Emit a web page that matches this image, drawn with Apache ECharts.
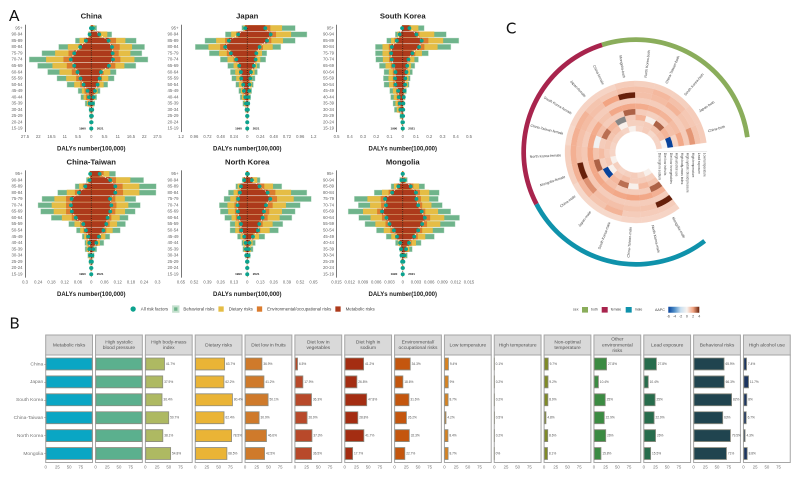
<!DOCTYPE html>
<html><head><meta charset="utf-8">
<style>html,body{margin:0;padding:0;background:#fff}#c{width:800px;height:479px;filter:blur(.4px)}</style>
<script src="https://cdn.jsdelivr.net/npm/echarts@6/dist/echarts.min.js"></script>
</head><body><div id="c"></div>
<script>
// ---------- Panel A data: outer edge of each cumulative risk layer (DALYs, 100,000)
const ages=['95+','90-94','85-89','80-84','75-79','70-74','65-69','60-64','55-59','50-54','45-49','40-44','35-39','30-34','25-29','20-24','15-19'];

const chinaM1990=[.14,.69,2.22,4.58,7.08,8.47,7.08,5.69,4.44,3.19,1.53,.97,.69,.21,.11,.07,.04];
const chinaE1990=[.14,.83,3.06,5.28,9.44,11.53,10.14,8.06,6.25,4.58,2.78,2.22,1.39,.42,.14,.08,.04];
const chinaD1990=[.28,1.11,4.86,9.72,15,18.75,16.11,13.19,10.42,7.08,3.89,3.19,1.81,.56,.28,.14,.07];
const chinaB1990=[.42,1.39,6.67,13.61,20.56,25.83,22.36,18.19,14.31,10.14,5.56,4.44,2.64,.97,.69,.28,.14];
const chinaM2021=[.69,3.33,7.22,8.61,8.89,9.03,7.36,4.03,3.47,2.64,1.53,.97,.69,.42,.28,.14,.07];
const chinaE2021=[.83,3.89,10.28,11.81,11.39,12.08,10,5.14,4.44,3.33,1.81,1.11,.83,.56,.35,.17,.07];
const chinaD2021=[1.39,6.67,14.17,16.94,16.25,17.92,13.75,7.92,7.08,5.14,2.64,1.67,1.11,.69,.42,.21,.1];
const chinaB2021=[2.36,8.61,18.75,22.22,21.11,23.61,18.61,10.42,9.58,6.94,3.75,2.36,1.53,.97,.69,.28,.14];

const japanM1990=[.036,.164,.333,.4,.297,.2,.145,.115,.109,.073,.061,.036,.024,.012,.004,.002,.001];
const japanE1990=[.042,.2,.4,.491,.37,.248,.176,.145,.133,.097,.085,.067,.042,.018,.006,.004,.002];
const japanD1990=[.067,.291,.564,.703,.509,.358,.248,.218,.2,.152,.115,.097,.061,.03,.012,.006,.003];
const japanB1990=[.103,.4,.77,.945,.691,.491,.358,.309,.285,.212,.158,.133,.085,.042,.018,.009,.006];
const japanM2021=[.327,.424,.358,.224,.164,.152,.121,.067,.055,.042,.036,.024,.018,.012,.004,.002,.001];
const japanE2021=[.418,.521,.436,.285,.188,.17,.133,.085,.073,.055,.042,.03,.024,.018,.006,.004,.002];
const japanD2021=[.63,.794,.648,.461,.267,.236,.176,.133,.091,.085,.061,.048,.03,.024,.012,.006,.003];
const japanB2021=[.873,1.085,.873,.612,.358,.339,.23,.188,.145,.115,.085,.067,.042,.03,.018,.009,.006];

const koreaM1990=[.005,.023,.045,.083,.088,.083,.07,.055,.058,.055,.035,.03,.023,.018,.008,.003,.001];
const koreaE1990=[.005,.03,.063,.105,.105,.103,.09,.075,.075,.073,.05,.045,.038,.03,.01,.005,.001];
const koreaD1990=[.006,.04,.088,.153,.153,.15,.13,.105,.108,.103,.075,.068,.055,.045,.015,.008,.002];
const koreaB1990=[.008,.058,.123,.208,.208,.205,.178,.143,.148,.143,.1,.093,.075,.065,.023,.013,.003];
const koreaM2021=[.05,.103,.143,.123,.073,.043,.033,.028,.02,.018,.013,.008,.005,.004,.003,.002,.001];
const koreaE2021=[.06,.125,.193,.163,.095,.055,.04,.035,.028,.023,.015,.01,.008,.005,.003,.003,.001];
const koreaD2021=[.118,.238,.305,.263,.145,.088,.063,.055,.043,.038,.02,.015,.01,.008,.005,.004,.002];
const koreaB2021=[.163,.33,.425,.365,.195,.12,.093,.075,.058,.05,.03,.02,.013,.01,.008,.005,.003];

const taiwanM1990=[.005,.008,.027,.056,.089,.092,.088,.07,.036,.024,.014,.009,.009,.005,.003,.001,.0005];
const taiwanE1990=[.006,.012,.038,.074,.114,.114,.114,.088,.05,.035,.023,.017,.015,.008,.005,.002,.001];
const taiwanD1990=[.008,.017,.055,.111,.167,.179,.17,.133,.076,.05,.032,.023,.021,.012,.008,.003,.001];
const taiwanB1990=[.009,.023,.074,.153,.224,.242,.23,.182,.103,.068,.042,.03,.029,.017,.011,.005,.002];
const taiwanM2021=[.038,.086,.109,.109,.085,.091,.086,.074,.068,.055,.035,.023,.009,.005,.003,.001,.0005];
const taiwanE2021=[.056,.112,.142,.144,.109,.114,.109,.091,.083,.068,.045,.029,.012,.006,.005,.002,.001];
const taiwanD2021=[.082,.177,.218,.218,.152,.168,.153,.129,.117,.097,.064,.039,.015,.009,.006,.003,.001];
const taiwanB2021=[.111,.238,.295,.294,.203,.223,.2,.168,.156,.132,.085,.058,.026,.014,.009,.005,.002];

const nkM1990=[.003,.03,.062,.072,.089,.095,.092,.082,.062,.059,.03,.016,.013,.01,.003,.002,.001];
const nkE1990=[.007,.036,.075,.095,.112,.125,.121,.112,.085,.082,.046,.026,.023,.013,.005,.003,.002];
const nkD1990=[.01,.043,.095,.134,.167,.194,.187,.154,.121,.118,.066,.039,.033,.016,.007,.005,.002];
const nkB1990=[.013,.052,.115,.187,.23,.276,.266,.223,.171,.171,.098,.056,.046,.023,.01,.007,.003];
const nkM2021=[.007,.046,.121,.2,.226,.184,.164,.151,.118,.105,.056,.023,.016,.013,.003,.002,.001];
const nkE2021=[.007,.056,.167,.276,.292,.249,.216,.2,.151,.128,.069,.03,.023,.016,.005,.003,.002];
const nkD2021=[.01,.098,.253,.43,.456,.38,.341,.318,.249,.22,.115,.052,.036,.023,.007,.005,.002];
const nkB2021=[.013,.128,.341,.587,.63,.522,.472,.44,.351,.308,.174,.082,.059,.033,.01,.007,.003];

const mongoliaM1990=[.00004,.0003,.001,.0024,.004,.0038,.0047,.0037,.003,.002,.0013,.0006,.0004,.0003,.00015,.00005,.00002];
const mongoliaE1990=[.0001,.0004,.0014,.0032,.005,.0049,.0058,.0047,.0039,.0028,.0017,.0008,.00045,.0004,.0002,.0001,.00004];
const mongoliaD1990=[.00015,.0005,.002,.0047,.008,.0074,.009,.0073,.0062,.0043,.0026,.0011,.0006,.00045,.0003,.0001,.00005];
const mongoliaB1990=[.0002,.00075,.0027,.0065,.011,.0101,.0124,.01,.0086,.006,.0038,.0017,.00075,.0006,.0004,.00015,.0001];
const mongoliaM2021=[.00004,.0004,.0018,.003,.0031,.0035,.0043,.005,.0044,.0035,.0026,.0014,.00075,.0004,.00015,.00005,.00002];
const mongoliaE2021=[.0001,.0005,.0024,.0039,.0041,.0044,.0051,.0062,.0055,.0044,.0034,.002,.0011,.0005,.00015,.0001,.00004];
const mongoliaD2021=[.00015,.00075,.0037,.006,.006,.0065,.008,.0094,.0085,.0068,.0051,.003,.0015,.00075,.0002,.0001,.00005];
const mongoliaB2021=[.0002,.0011,.005,.0083,.0081,.009,.0109,.0129,.0119,.0094,.0072,.0042,.0022,.0011,.0003,.00015,.0001];

const pyramidNames=['China','Japan','South Korea','China-Taiwan','North Korea','Mongolia'];
const pyramidMax=[27.5,1.2,.5,.3,.65,.015];
const pyramidStep=[5.5,.24,.1,.06,.13,.003];
const pyramid1990=[[chinaB1990,chinaD1990,chinaE1990,chinaM1990],[japanB1990,japanD1990,japanE1990,japanM1990],[koreaB1990,koreaD1990,koreaE1990,koreaM1990],[taiwanB1990,taiwanD1990,taiwanE1990,taiwanM1990],[nkB1990,nkD1990,nkE1990,nkM1990],[mongoliaB1990,mongoliaD1990,mongoliaE1990,mongoliaM1990]];
const pyramid2021=[[chinaB2021,chinaD2021,chinaE2021,chinaM2021],[japanB2021,japanD2021,japanE2021,japanM2021],[koreaB2021,koreaD2021,koreaE2021,koreaM2021],[taiwanB2021,taiwanD2021,taiwanE2021,taiwanM2021],[nkB2021,nkD2021,nkE2021,nkM2021],[mongoliaB2021,mongoliaD2021,mongoliaE2021,mongoliaM2021]];
const layerNames=['Behavioral risks','Dietary risks','Environmental/occupational risks','Metabolic risks'];
const allRiskName='All risk factors';

// ---------- Panel B data: percent share
const locations=['China','Japan','South Korea','China-Taiwan','North Korea','Mongolia'];
const shareMetabolic=[100,100,100,100,100,100];
const shareSbp=[100,100,100,100,100,100];
const shareBmi=[41.7,37.9,36.4,50.7,38.1,54.8];
const shareDietary=[63.7,62.2,80.4,62.4,78.5,68.5];
const shareFruits=[36.9,41.2,50.1,30.9,46.6,42.5];
const shareVegetables=[6.5,17.9,36.3,26.9,37.3,36.5];
const shareSodium=[41.2,26.8,47.8,28.8,41.7,17.7];
const shareEnvironmental=[34.3,18.6,31.6,26.2,32.3,22.7];
const shareLowTemp=[9.4,9,8.7,4.2,8.4,8.7];
const shareHighTemp=[.1,.2,.2,.5,.2,0];
const shareNonOptimal=[9.7,9.2,8.9,4.8,8.6,8.1];
const shareOtherEnv=[27.8,10.4,25,22.9,26,15.8];
const shareLead=[27.8,10.4,25,22.9,26,15.5];
const shareBehavioral=[65.9,66.3,82,63,79.5,71];
const shareAlcohol=[7.4,11.7,8,6.7,4.3,8.8];
const facetTitles=['Metabolic risks','High systolic\nblood pressure','High body-mass\nindex','Dietary risks','Diet low in fruits','Diet low in\nvegetables','Diet high in\nsodium','Environmental/\noccupational risks','Low temperature','High temperature','Non-optimal\ntemperature','Other\nenvironmental\nrisks','Lead exposure','Behavioral risks','High alcohol use'];
const facetValues=[shareMetabolic,shareSbp,shareBmi,shareDietary,shareFruits,shareVegetables,shareSodium,shareEnvironmental,shareLowTemp,shareHighTemp,shareNonOptimal,shareOtherEnv,shareLead,shareBehavioral,shareAlcohol];
const facetColors=['#0aa6c4','#5bb08e','#aeb962','#eab436','#cf7a2b','#b8492a','#a42d12','#c4560e','#d9831f','#c9832a','#7f8a26','#3b8b42','#276c4c','#20444f','#1c3560'];

// ---------- Panel C data: AAPC by risk ring (inner to outer) and sector
const sectorNames=['China-both','Japan-both','South Korea-both','China-Taiwan-both','North Korea-both','Mongolia-both','China-female','Japan-female','South Korea-female','China-Taiwan-female','North Korea-female','Mongolia-female','China-male','Japan-male','South Korea-male','China-Taiwan-male','North Korea-male','Mongolia-male'];
const ringNames=['Diet high in sodium','Diet low in fruits','Diet low in vegetables','High alcohol use','High body-mass index','High systolic blood pressure','High temperature','Lead exposure','Low temperature'];
const ringSodium=[.8,.8,.7,1,.8,.1,.8,.9,.9,.8,.8,.1,.9,.8,.9,1,.7,.1];
const ringFruits=[0,1.3,1.2,1,.9,.9,.1,1.3,1.2,1.1,1,1.1,.1,1.1,1.3,1,1,.9];
const ringVegetables=[-6,1.6,3,.1,1.6,1,null,1.6,2.8,1,1.4,.9,-6,1.5,2.8,.1,1.5,1.2];
const ringAlcohol=[.8,1.3,1,.9,1,3,1,1,1.3,-.3,1.2,3,1.1,1.3,1,1,1,3];
const ringBmi=[1.9,1.4,1.6,1.7,1.8,1.9,1.9,1.2,1.8,1.9,2,1.9,1.9,1.8,1.9,2,1.9,1.7];
const ringSbp=[1,1,1,1,1,1,1,1,1.1,1,1.1,1.1,1.1,1,1,1,1,1];
const ringHighTemp=[2.2,1.2,1.6,1.4,1.3,4,2,1.3,1.4,1.3,1.3,4,2.3,1.3,1.3,1.2,1.2,4];
const ringLead=[1.2,1.1,1.3,1.5,1.3,1.3,1.1,1.2,1.6,1.7,1.7,1.7,1.5,1.2,1.6,1,1,1];
const ringLowTemp=[1,1,.9,.9,.9,1,.8,.8,.8,.7,.9,.9,.7,.7,.7,.8,.8,.8];
const ringValues=[ringSodium,ringFruits,ringVegetables,ringAlcohol,ringBmi,ringSbp,ringHighTemp,ringLead,ringLowTemp];
const sexNames=['both','female','male'];
const aapcTicks=[-6,-4,-2,0,2,4];

// ---------- Styles and layout
const FONT='"Liberation Sans",Arial,sans-serif';
const layerColors=['#6fb48b','#e5bd45','#db7c2e','#ad3a1b'];
const dotColor='#0ca28e';
const sexColors=['#8aad5b','#a8244d','#0f92ab'];
const aapcColors=['#08439b','#4f8fc9','#c9dff0','#f8f4f1','#f2a482','#67200a'];
const pyramidLeft=[25,181,336.5,25,181,336.5];
const pyramidTop=[25,25,25,170.7,170.7,170.7];
const PW=132.5,PH=106.7;
const facetLeft=i=>45.7+49.84*i, FW=46.8, FT=355, FH=107.5;

const grid=[],xAxis=[],yAxis=[],series=[],title=[],graphic=[];
const fmt=v=>String(+Math.abs(v).toFixed(4));

pyramidNames.forEach((name,p)=>{
  grid.push({left:pyramidLeft[p],top:pyramidTop[p],width:PW,height:PH});
  const M=pyramidMax[p];
  xAxis.push({gridIndex:p,type:'value',min:-M,max:M,interval:pyramidStep[p],splitLine:{show:false},
    name:'DALYs number(100,000)',nameLocation:'middle',nameGap:14,nameTextStyle:{fontSize:6,fontWeight:'bold',color:'#222',fontFamily:FONT},
    axisLine:{onZero:false,lineStyle:{color:'#555',width:.8}},axisTick:{length:1.5,lineStyle:{color:'#555',width:.5}},
    axisLabel:{fontSize:4.2,color:'#666',margin:3,formatter:fmt,hideOverlap:false,showMinLabel:true,showMaxLabel:true}});
  yAxis.push({gridIndex:p,type:'category',data:ages,inverse:true,splitLine:{show:false},
    axisLine:{onZero:false,lineStyle:{color:'#555',width:.8}},axisTick:{length:1.5,alignWithLabel:true,lineStyle:{color:'#555',width:.5}},
    axisLabel:{fontSize:4.3,color:'#666',margin:2.5,interval:0}});
  title.push({text:name,left:pyramidLeft[p]+PW/2,top:pyramidTop[p]-12.5,textAlign:'center',padding:0,
    textStyle:{fontSize:7.7,fontWeight:'bold',color:'#222',fontFamily:FONT}});
  [pyramid1990[p],pyramid2021[p]].forEach((layers,side)=>{
    const sign=side?1:-1;
    layers.forEach((vals,l)=>series.push({type:'bar',name:layerNames[l],xAxisIndex:p,yAxisIndex:p,barWidth:'91%',barGap:'-100%',silent:true,
      data:vals.map(v=>sign*v),itemStyle:l===0?{color:layerColors[l],borderColor:'#c3e0cd',borderWidth:.4}:{color:layerColors[l]},z:2+l}));
  });
  series.push({type:'line',xAxisIndex:p,yAxisIndex:p,data:ages.map(()=>0),symbol:'none',silent:true,z:8,
    lineStyle:{color:'#111',width:.7,type:[1,1.2]}});
  [pyramid1990[p][3],pyramid2021[p][3]].forEach((vals,side)=>{
    const sign=side?1:-1, year=side?'2021':'1990';
    series.push({type:'line',name:allRiskName,xAxisIndex:p,yAxisIndex:p,symbol:'circle',symbolSize:3.8,showAllSymbol:true,silent:true,z:9,
      data:vals.map((v,i)=>i===ages.length-1?{value:sign*v,label:{show:true,position:side?'right':'left',distance:3.5,formatter:year,fontSize:3,fontWeight:'bold',color:'#222'}}:sign*v),
      itemStyle:{color:dotColor},lineStyle:{color:'#fff',width:.7,type:[1.5,1.5]}});
  });
});

facetTitles.forEach((t,i)=>{
  const g=i+6, left=facetLeft(i);
  grid.push({left,top:FT,width:FW,height:FH,show:true,borderColor:'#a6a6a6',borderWidth:1,backgroundColor:'#fff'});
  xAxis.push({gridIndex:g,type:'value',min:0,max:100,interval:25,splitLine:{show:false},axisLine:{show:false},
    axisTick:{length:1.5,lineStyle:{color:'#777',width:.5},customValues:[0,25,50,75]},
    axisLabel:{fontSize:4.3,color:'#777',margin:3,customValues:[0,25,50,75]}});
  yAxis.push({gridIndex:g,type:'category',data:locations,inverse:true,axisLine:{show:false},
    axisTick:{show:i===0,length:1.5,alignWithLabel:true,lineStyle:{color:'#777',width:.5}},
    axisLabel:{show:i===0,fontSize:4.9,color:'#777',margin:2.5,interval:0}});
  series.push({type:'bar',xAxisIndex:g,yAxisIndex:g,data:facetValues[i],barWidth:'71%',silent:true,
    itemStyle:{color:facetColors[i],borderColor:'#8c8c80',borderWidth:.8},
    label:{show:i>1,position:'right',distance:1,fontSize:3.2,color:'#555',formatter:o=>o.value+'%'}});
  graphic.push({type:'rect',shape:{x:left,y:335,width:FW,height:20},style:{fill:'#d9d9d9',stroke:'#a6a6a6',lineWidth:1},silent:true});
  graphic.push({type:'text',x:left+FW/2,y:345,silent:true,style:{text:t,font:'4.9px '+FONT,fill:'#555',textAlign:'center',textVerticalAlign:'middle',lineHeight:5.6}});
});

// ---------- Panel C
const CX=636,CY=152,R0=20.7,DR=5.6,START=7.6,STEP=16.67,SEX_R0=110,SEX_R=114.7,LABEL_R=75;
const rad=d=>d*Math.PI/180;
const polarIndex=series.length;
const heatData=[];
ringValues.forEach((vals,r)=>vals.forEach((v,s)=>heatData.push([s,r,v===null?-99:v])));
const NA_COLOR='#868686';
series.push({type:'custom',coordinateSystem:'polar',polarIndex:0,silent:true,data:heatData,encode:{angle:0,radius:1,value:2},
  renderItem(params,api){
    const s=api.value(0),r=api.value(1),v=api.value(2),a0=START+STEP*s,a1=a0+STEP;
    const cs=params.coordSys;
    const fill=v===-99?NA_COLOR:api.visual('color');
    return {type:'sector',shape:{cx:cs.cx,cy:cs.cy,r0:R0+DR*r,r:R0+DR*(r+1),startAngle:-rad(a0),endAngle:-rad(a1),clockwise:false},
      style:{fill,stroke:fill,lineWidth:.15}};
  }});
series.push({type:'custom',coordinateSystem:'polar',polarIndex:0,silent:true,data:sexNames.map((n,i)=>[i]),
  renderItem(params,api){
    const i=api.value(0),a0=START+STEP*6*i,a1=a0+STEP*6,cs=params.coordSys;
    return {type:'sector',shape:{cx:cs.cx,cy:cs.cy,r0:SEX_R0,r:SEX_R,startAngle:-rad(a0),endAngle:-rad(a1),clockwise:false},style:{fill:sexColors[i]}};
  }});
series.push({type:'custom',coordinateSystem:'polar',polarIndex:0,silent:true,data:sectorNames.map((n,i)=>[i]),
  renderItem(params,api){
    const i=api.value(0),th=START+STEP*(i+.5),cs=params.coordSys,c=Math.cos(rad(th)),right=c>=0;
    return {type:'text',x:cs.cx+LABEL_R*c,y:cs.cy-LABEL_R*Math.sin(rad(th)),rotation:right?rad(th):rad(th)-Math.PI,
      style:{text:sectorNames[i],font:'3.6px '+FONT,fill:'#444',textAlign:right?'left':'right',textVerticalAlign:'middle'}};
  }});

ringNames.forEach((n,r)=>graphic.push({type:'text',x:CX+R0+DR*(r+.5),y:CY+.8,rotation:-Math.PI/2,silent:true,
  style:{text:n,font:'3.2px '+FONT,fill:'#444',textAlign:'left',textVerticalAlign:'middle'}}));
graphic.push({type:'line',silent:true,shape:{x1:CX+R0,y1:CY-.6,x2:CX+R0+DR*9,y2:CY-.6},style:{stroke:'#ccc',lineWidth:.4}});

// Panel letters
[['A',9,8],['B',9.5,315.5],['C',506,20.5]].forEach(([t,x,y])=>graphic.push({type:'text',x,y,silent:true,style:{text:t,font:'15.5px Lato,sans-serif',fill:'#111'}}));

// Sex + AAPC legends
const sexLegendX=[582,601.7,625.7];
graphic.push({type:'text',x:573,y:309.7,silent:true,style:{text:'sex',font:'3.5px '+FONT,fill:'#444',textVerticalAlign:'middle'}});
sexNames.forEach((n,i)=>{
  graphic.push({type:'rect',silent:true,shape:{x:sexLegendX[i],y:307,width:6,height:5.6},style:{fill:sexColors[i]}});
  graphic.push({type:'text',x:sexLegendX[i]+9,y:309.7,silent:true,style:{text:n,font:'3.5px '+FONT,fill:'#444',textVerticalAlign:'middle'}});
});
graphic.push({type:'text',x:655,y:310,silent:true,style:{text:'AAPC',font:'3.6px '+FONT,fill:'#444',textVerticalAlign:'middle'}});
graphic.push({type:'rect',silent:true,shape:{x:668.3,y:306.7,width:31,height:6},
  style:{fill:new echarts.graphic.LinearGradient(0,0,1,0,aapcColors.map((color,i)=>({offset:i/(aapcColors.length-1),color})))}});
aapcTicks.forEach(t=>graphic.push({type:'text',x:668.3+(t+6)/10*31,y:316.7,silent:true,style:{text:String(t),font:'3.6px '+FONT,fill:'#444',textAlign:'center',textVerticalAlign:'middle'}}));

const chart=echarts.init(document.getElementById('c'),null,{renderer:'canvas',devicePixelRatio:2});
chart.setOption({
  animation:false,backgroundColor:'#fff',textStyle:{fontFamily:FONT},
  title,grid,xAxis,yAxis,series,graphic,
  polar:[{center:[CX,CY],radius:[0,120]}],
  angleAxis:[{polarIndex:0,type:'value',min:0,max:360,startAngle:0,clockwise:false,show:false}],
  radiusAxis:[{polarIndex:0,type:'value',min:0,max:120,show:false}],
  visualMap:[{show:false,type:'continuous',seriesIndex:polarIndex,dimension:2,min:-6,max:4,inRange:{color:aapcColors},outOfRange:{color:NA_COLOR}}],
  legend:{left:130.5,top:305.4,padding:0,itemWidth:5.3,itemHeight:5.3,itemGap:4,selectedMode:false,silent:true,
    textStyle:{fontSize:4.4,color:'#444',fontFamily:FONT},
    data:[{name:allRiskName,icon:'circle',itemStyle:{color:dotColor}},
      ...layerNames.map((n,l)=>({name:n,icon:'rect',itemStyle:{color:layerColors[l]}}))]}
});
</script></body></html>
